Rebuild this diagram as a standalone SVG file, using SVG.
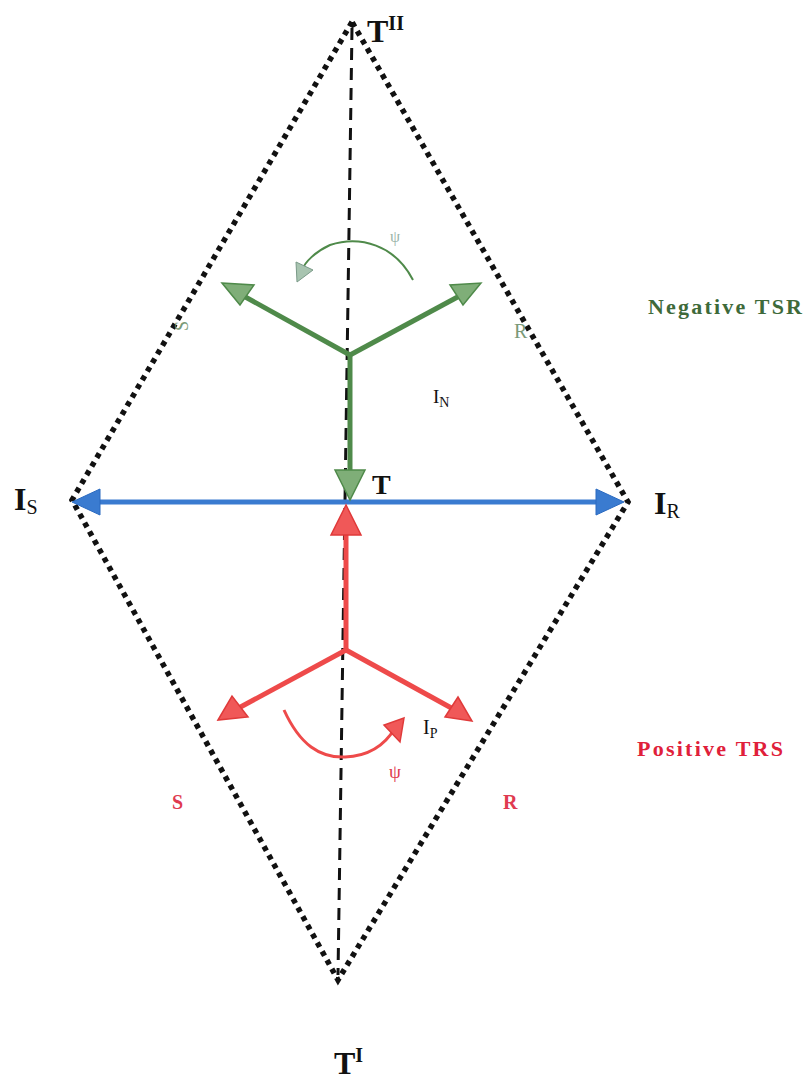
<svg xmlns="http://www.w3.org/2000/svg" width="810" height="1079" viewBox="0 0 810 1079">
<style>
.dot{fill:none;stroke:#111;stroke-width:5.5;stroke-dasharray:5 5}
.dash{fill:none;stroke:#111;stroke-width:3;stroke-dasharray:12 8}
.lbl{font-family:"Liberation Serif",serif;fill:#111}
.g{stroke:#4f8a4a;fill:none}
.gh{fill:#7fae78;stroke:#4f8a4a;stroke-width:1.5}
.r{stroke:#ee4a4a;fill:none}
.rh{fill:#f05858;stroke:#e03a3a;stroke-width:1.5}
</style>
<rect width="810" height="1079" fill="#fff"/>
<g id="connectors">
<path class="dot" d="M352,22 L72,500 L338,980 L628,502 Z"/>
<line class="dash" x1="352" y1="28" x2="338" y2="975"/>
<line x1="95" y1="502" x2="600" y2="502" stroke="#3a7bd0" stroke-width="5"/>
<polygon points="72,502 100,489 100,515" fill="#3a7bd0" stroke="#2a6ac0"/>
<polygon points="624,502 596,489 596,515" fill="#3a7bd0" stroke="#2a6ac0"/>
</g>
<g id="negative">
<line class="g" x1="350" y1="355" x2="350" y2="475" stroke-width="5" stroke="#3e7a3a"/>
<polygon class="gh" points="350,500 335,470 365,470"/>
<line class="g" x1="350" y1="355" x2="240" y2="294" stroke-width="5"/>
<polygon class="gh" points="222,283 254,285 240,305"/>
<line class="g" x1="350" y1="355" x2="465" y2="293" stroke-width="5"/>
<polygon class="gh" points="481,283 463,305 450,285"/>
<path class="g" d="M413,280 C395,245 360,235 330,245 C315,252 305,262 302,270" stroke-width="2" stroke="#7a9a88"/>
<polygon points="297,282 296,262 313,270" fill="#a8c4b0" stroke="#7a9a88"/>
<text class="lbl" x="390" y="242" font-size="16" style="fill:#9ab4a8">ψ</text>
<text class="lbl" x="0" y="0" font-size="18" transform="translate(188,331) rotate(-90)" style="fill:#7a9a78">S</text>
<text class="lbl" x="514" y="338" font-size="20" style="fill:#7a9a78">R</text>
<text class="lbl" x="433" y="403" font-size="19">I<tspan font-size="14" dy="4">N</tspan></text>
<text class="lbl" x="648" y="314" font-size="22" font-weight="bold" textLength="154" style="fill:#3e6a3a">Negative TSR</text>
</g>
<g id="positive">
<line class="r" x1="346" y1="650" x2="346" y2="530" stroke-width="5"/>
<polygon class="rh" points="346,505 331,535 361,535"/>
<line class="r" x1="346" y1="650" x2="235" y2="710" stroke-width="5"/>
<polygon class="rh" points="218,720 232,696 248,717"/>
<line class="r" x1="346" y1="650" x2="455" y2="710" stroke-width="5"/>
<polygon class="rh" points="472,721 445,717 458,697"/>
<path class="r" d="M284,710 C300,745 320,758 345,757 C370,756 385,745 395,728" stroke-width="3"/>
<polygon class="rh" points="404,718 384,725 400,742"/>
<text class="lbl" x="389" y="778" font-size="19" style="fill:#e03a50">ψ</text>
<text class="lbl" x="423" y="734" font-size="20">I<tspan font-size="14" dy="4">P</tspan></text>
<text class="lbl" x="172" y="809" font-size="20" font-weight="bold" style="fill:#e03a50">S</text>
<text class="lbl" x="503" y="809" font-size="20" font-weight="bold" style="fill:#e03a50">R</text>
<text class="lbl" x="637" y="756" font-size="22" font-weight="bold" textLength="146" style="fill:#e0203a">Positive TRS</text>
</g>
<g id="labels">
<text class="lbl" x="14" y="510" font-size="32" font-weight="bold">I<tspan font-size="20" font-weight="normal" dy="4">S</tspan></text>
<text class="lbl" x="654" y="514" font-size="32" font-weight="bold">I<tspan font-size="20" font-weight="normal" dy="4">R</tspan></text>
<text class="lbl" x="372" y="494" font-size="28" font-weight="bold">T</text>
<text class="lbl" x="367" y="42" font-size="32" font-weight="bold">T<tspan font-size="20" dy="-12">II</tspan></text>
<text class="lbl" x="334" y="1074" font-size="32" font-weight="bold">T<tspan font-size="20" dy="-12">I</tspan></text>
</g>
</svg>
